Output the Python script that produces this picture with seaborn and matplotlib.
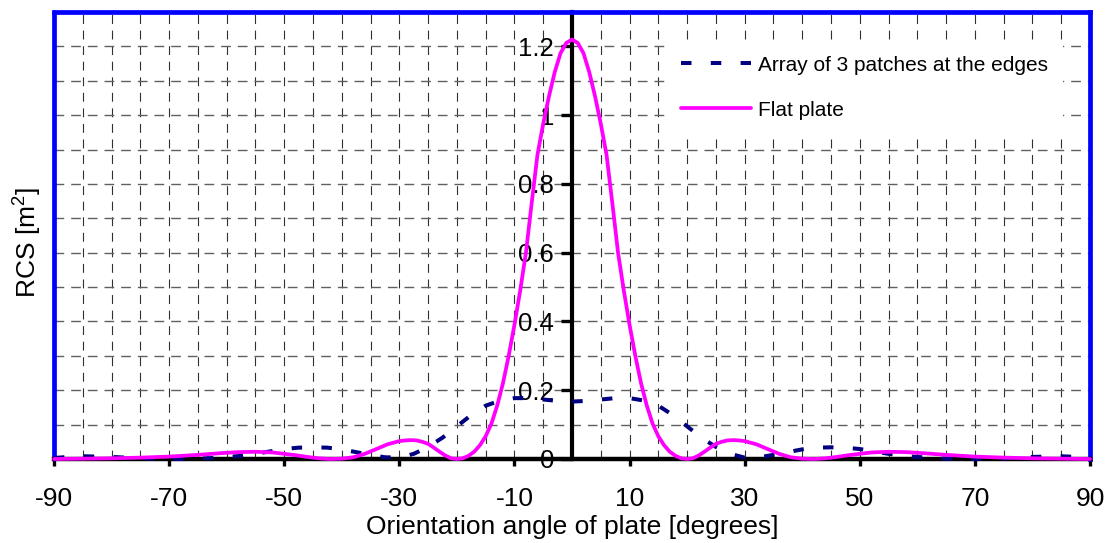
import matplotlib
matplotlib.use("Agg")
import matplotlib.pyplot as plt
import seaborn as sns
import numpy as np
from matplotlib.ticker import MultipleLocator, FuncFormatter

# ---------------- data ----------------
plate_angle = [-90, -85, -80, -75, -70, -65, -61, -58, -55, -52, -50, -48, -46, -44, -42, -40,
               -38, -36, -34, -32, -30, -29, -28, -27, -26, -25, -24, -23, -22, -21, -20,
               -19, -18, -17, -16, -15, -14, -13, -12, -11, -10, -9, -8, -7, -6, -5, -4, -3,
               -2, -1, 0,
               1, 2, 3, 4, 5, 6, 7, 8, 9, 10, 11, 12, 13, 14, 15, 16, 17, 18, 19, 20,
               21, 22, 23, 24, 25, 26, 27, 28, 29, 30, 32, 34, 36, 38, 40, 42, 44, 46, 48,
               50, 52, 55, 58, 61, 65, 70, 75, 80, 85, 90]
plate_rcs = [0.0, 0.001, 0.002, 0.004, 0.007, 0.012, 0.017, 0.020, 0.021, 0.019, 0.015, 0.011,
             0.006, 0.002, 0.0, 0.001,
             0.005, 0.015, 0.029, 0.043, 0.052, 0.054, 0.055, 0.054, 0.050, 0.044, 0.033,
             0.021, 0.010, 0.002, 0.0,
             0.002, 0.009, 0.021, 0.040, 0.066, 0.103, 0.155, 0.22, 0.30, 0.39, 0.49, 0.60,
             0.745, 0.885, 0.975, 1.055, 1.125, 1.18, 1.21, 1.22,
             1.21, 1.18, 1.125, 1.055, 0.975, 0.885, 0.745, 0.60, 0.49, 0.39, 0.30, 0.22,
             0.155, 0.103, 0.066, 0.040, 0.021, 0.009, 0.002, 0.0,
             0.002, 0.010, 0.021, 0.033, 0.044, 0.050, 0.054, 0.055, 0.054, 0.052, 0.043,
             0.029, 0.015, 0.005, 0.001, 0.0, 0.002, 0.006, 0.011,
             0.015, 0.019, 0.021, 0.020, 0.017, 0.012, 0.007, 0.004, 0.002, 0.001, 0.0]

array_angle = [-90, -87.5, -85, -82.5, -80, -77.5, -75, -72.5, -70, -67.5, -65, -62.5, -60,
               -57.5, -55, -52.5, -50, -47.5, -45, -42.5, -40, -37.5, -35, -32.5, -30,
               -27.5, -25, -22.5, -20, -17.5, -15, -12.5, -10, -7.5, -5, -2.5, 0,
               2.5, 5, 7.5, 10, 12.5, 15, 17.5, 20, 22.5, 25, 27.5, 30, 32.5, 35, 37.5,
               40, 42.5, 45, 47.5, 50, 52.5, 55, 57.5, 60, 62.5, 65, 67.5, 70, 72.5, 75,
               77.5, 80, 82.5, 85, 87.5, 90]
array_rcs = [0.003, 0.006, 0.008, 0.007, 0.006, 0.004, 0.002, 0.001, 0.0, 0.0, 0.001, 0.003,
             0.006, 0.009, 0.015, 0.022, 0.029, 0.033, 0.034, 0.033, 0.028, 0.020, 0.012,
             0.005, 0.004, 0.015, 0.035, 0.062, 0.095, 0.128, 0.155, 0.170, 0.177, 0.177,
             0.173, 0.169, 0.167,
             0.169, 0.173, 0.177, 0.177, 0.170, 0.155, 0.128, 0.095, 0.062, 0.035, 0.015,
             0.004, 0.005, 0.012, 0.020, 0.028, 0.033, 0.034, 0.033, 0.029, 0.022, 0.015,
             0.009, 0.006, 0.003, 0.001, 0.0, 0.0, 0.001, 0.002, 0.004, 0.006, 0.007,
             0.008, 0.006, 0.003]

series_labels = ["Array of 3 patches at the edges", "Flat plate"]
x_ticks = [-90, -70, -50, -30, -10, 10, 30, 50, 70, 90]
y_ticks = [0, 0.2, 0.4, 0.6, 0.8, 1.0, 1.2]
x_label = "Orientation angle of plate [degrees]"
y_label = "RCS [m$^{2}$]"

# ---------------- style ----------------
sns.set_theme(style="white")
plt.rcParams["font.family"] = ["Liberation Sans", "DejaVu Sans"]
plt.rcParams["mathtext.fontset"] = "custom"
plt.rcParams["mathtext.rm"] = "Liberation Sans"
plt.rcParams["mathtext.it"] = "Liberation Sans"
plt.rcParams["axes.unicode_minus"] = False
plt.rcParams["text.color"] = "black"
plt.rcParams["axes.labelcolor"] = "black"
plt.rcParams["xtick.color"] = "black"
plt.rcParams["ytick.color"] = "black"

W, H = 1111, 543
fig = plt.figure(figsize=(W / 100, H / 100), dpi=100)
L, R, T, B = 54, 1090, 12, 459
ax = fig.add_axes([L / W, (H - B) / H, (R - L) / W, (B - T) / H])

sns.lineplot(x=array_angle, y=array_rcs, ax=ax, color="#000080", lw=2.9,
             label=series_labels[0], zorder=4, clip_on=False)
sns.lineplot(x=plate_angle, y=plate_rcs, ax=ax, color="#FF00FF", lw=2.7,
             label=series_labels[1], zorder=5, clip_on=False)
ln_arr, ln_plate = ax.get_lines()[:2]
ln_arr.set_dashes([2.6, 4.8])
ln_arr.set_dash_capstyle("butt")
ln_plate.set_solid_capstyle("round")

ax.set_xlim(-90, 90)
ax.set_ylim(0, 1.3)
ax.set_xticks(x_ticks)
ax.xaxis.set_minor_locator(MultipleLocator(5))
ax.set_yticks(y_ticks)
ax.yaxis.set_minor_locator(MultipleLocator(0.1))
ax.yaxis.set_major_formatter(FuncFormatter(lambda v, p: f"{v:g}"))

# grid
ax.grid(which="both", axis="x", color="#303030", lw=0.8, ls=(0, (8, 6)))
ax.grid(which="both", axis="y", color="#606060", lw=1.0, ls=(0, (7, 5)))
ax.set_axisbelow(True)

# spines
ax.spines["left"].set_position(("data", 0))
ax.spines["left"].set_color("black")
ax.spines["left"].set_linewidth(3.0)
ax.spines["bottom"].set_color("black")
ax.spines["bottom"].set_linewidth(3.2)
for s in ("top", "right"):
    ax.spines[s].set_color("#0000FF")
    ax.spines[s].set_linewidth(3.4)
ax.axvline(-90, color="#0000FF", lw=3.4, clip_on=False, zorder=2.4)

ax.tick_params(axis="x", which="major", direction="out", length=5, width=2.4,
               color="black", labelsize=19, pad=15, bottom=True)
ax.tick_params(axis="y", which="major", direction="out", length=8, width=2.4,
               color="black", labelsize=18.5, pad=5, left=True)
ax.tick_params(which="minor", length=0)

ax.set_xlabel(x_label, fontsize=19, labelpad=3)
ax.set_ylabel(y_label, fontsize=19)
ax.yaxis.set_label_coords(-0.010, 0.485)
ax.yaxis.label.set_va("bottom")

leg = ax.legend(loc="upper left", bbox_to_anchor=((665 - L) / (R - L), (B - 40) / (B - T)),
                borderaxespad=0, borderpad=0.75, frameon=True, fancybox=False,
                facecolor="white", edgecolor="none", framealpha=1, fontsize=15,
                handlelength=3.4, handletextpad=0.3, labelspacing=1.25)
leg.set_zorder(6)

fig.savefig("out.png", dpi=100)
